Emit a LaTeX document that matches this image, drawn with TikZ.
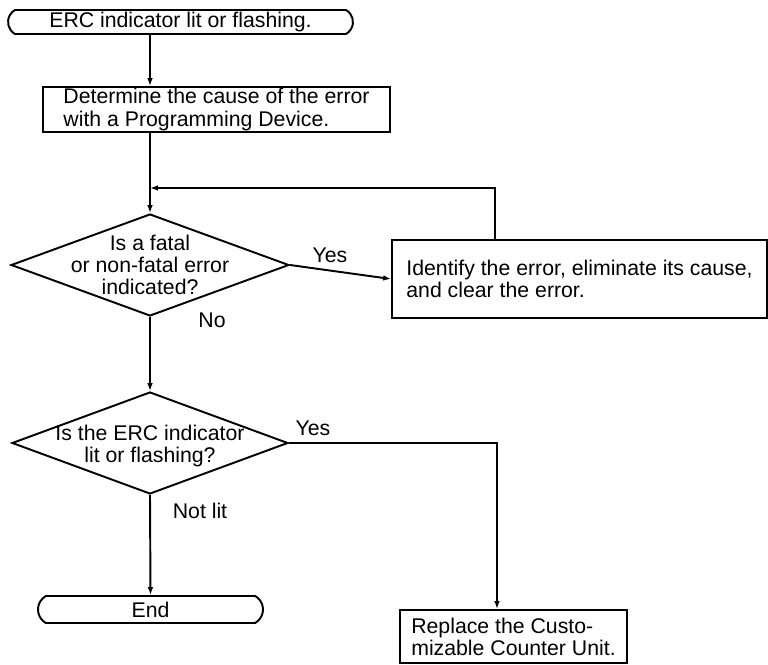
\documentclass[tikz,border=0pt]{standalone}
\usepackage{fontspec}
\setmainfont{Liberation Sans}
\usetikzlibrary{shapes.geometric, shapes.misc, arrows.meta}

\begin{document}
\begin{tikzpicture}[x=0.02cm, y=-0.02cm,
    every node/.style={font=\fontsize{12.1}{12.6}\selectfont},
    wire/.style={line width=1.1pt},
    flow/.style={wire, -{Latex[length=4.5pt, width=3.2pt]}},
    termbox/.style={draw, wire, rounded rectangle, rounded rectangle arc length=120, inner sep=0pt},
    stepbox/.style={draw, wire, rectangle, inner sep=0pt, align=left},
    decision/.style={draw, wire, diamond, inner sep=0pt}]
    \useasboundingbox (0, 0) rectangle (768, 665);

    % start and first step
    \node[termbox, minimum width=6.9cm, minimum height=0.48cm] (start) at (180.5, 22) {ERC indicator lit or flashing.};
    \node[stepbox, minimum width=6.94cm, minimum height=0.9cm] (determine) at (216.5, 109.5)
        {Determine the cause of the error\\with a Programming Device.};

    % decisions
    \node[decision, minimum width=5.56cm, minimum height=2.04cm,
        label={[align=center]center:Is a fatal\\or non-fatal error\\indicated?}] (q1) at (150, 265) {};
    \node[decision, minimum width=5.52cm, minimum height=2.04cm,
        label={[align=center, yshift=-0.06cm]center:Is the ERC indicator\\lit or flashing?}] (q2) at (150, 443) {};

    % actions
    \node[stepbox, minimum width=7.5cm, minimum height=1.56cm] (identify) at (579.5, 279)
        {Identify the error, eliminate its cause,\\and clear the error.};
    \node[stepbox, minimum width=4.54cm, minimum height=1.06cm] (replace) at (513.5, 636.5)
        {Replace the Custo-\\mizable Counter Unit.};
    \node[termbox, minimum width=4.5cm, minimum height=0.54cm] (finish) at (150.5, 609.5) {End};

    % branch labels
    \node (yesone) at (330, 255) {Yes};
    \node (noone) at (212, 320) {No};
    \node (yestwo) at (313, 428) {Yes};
    \node (notlit) at (200, 511) {Not lit};

    % turning points
    \coordinate (loop) at (495, 188);
    \coordinate (turn) at (497, 443);

    % connectors
    \draw[flow] (start.south -| q1.north) -- (determine.north -| q1.north);
    \draw[flow] (determine.south -| q1.north) -- (q1.north);
    \draw[flow] (identify.north -| loop) -- (loop) -- (loop -| q1.north);
    \draw[flow] (q1.east) -- (identify.west);
    \draw[flow] (q1.south) -- (q2.north);
    \draw[flow] (q2.east) -- (turn) -- (turn |- replace.north);
    \draw[flow] (q2.south) -- (finish.north);
\end{tikzpicture}
\end{document}
